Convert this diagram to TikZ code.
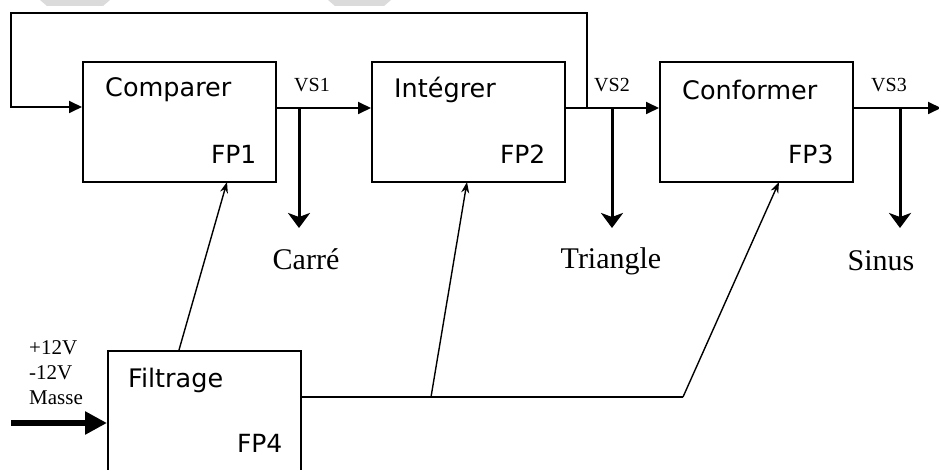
\documentclass[tikz,border=0pt]{standalone}
\usepackage{fontspec}
\setmainfont{Liberation Serif}
\newfontfamily\boxfont{DejaVu Sans}
\usetikzlibrary{arrows.meta}
\begin{document}
\begin{tikzpicture}[x=1pt,y=-1pt,
  block/.style={draw, line width=1.6pt, minimum width=193pt, minimum height=120pt,
    inner sep=0pt, anchor=north west},
  title/.style={font=\boxfont\fontsize{25.5}{25.5}\selectfont, anchor=west, inner sep=0pt},
  tag/.style={font=\boxfont\fontsize{25}{25}\selectfont, anchor=east, inner sep=0pt},
  sig/.style={line width=1.8pt, -{Triangle[length=13pt,width=12pt]}},
  tap/.style={line width=3pt, -{Stealth[length=15pt,width=22pt,inset=4pt]}},
  feed/.style={line width=1.4pt, -{Stealth[length=11pt,width=8pt]}},
  bus/.style={line width=1.6pt},
  wave/.style={font=\fontsize{30}{30}\selectfont, inner sep=0pt},
  vs/.style={font=\fontsize{20}{20}\selectfont, inner sep=0pt},
  supply/.style={font=\fontsize{21}{21}\selectfont, inner sep=0pt, anchor=west},
  shade/.style={fill=black!14, draw=none},
]
\clip (0,0) rectangle (939,470);
\fill[white] (0,0) rectangle (939,470);

% light grey tabs along the top edge
\path[shade] (40,0) -- (110,0) -- (103,6) -- (47,6) -- cycle;
\path[shade] (328,0) -- (391,0) -- (384,6) -- (335,6) -- cycle;

% function blocks
\node[block] (cmp) at (82,61) {};
\node[block] (int) at (371,61) {};
\node[block] (cnf) at (659,61) {};
\node[block, minimum height=122pt] (flt) at (107,350) {};

\node[title] (cmpT) at ([xshift=23pt,yshift=-29pt]cmp.north west) {Comparer};
\node[title] (intT) at ([xshift=23pt,yshift=-29pt]int.north west) {Intégrer};
\node[title] (cnfT) at ([xshift=23pt,yshift=-29pt]cnf.north west) {Conformer};
\node[title] (fltT) at ([xshift=21pt,yshift=-30pt]flt.north west) {Filtrage};

\node[tag] (fp1) at ([xshift=-20pt,yshift=-93pt]cmp.north east) {FP1};
\node[tag] (fp2) at ([xshift=-20pt,yshift=-93pt]int.north east) {FP2};
\node[tag] (fp3) at ([xshift=-20pt,yshift=-93pt]cnf.north east) {FP3};
\node[tag] (fp4) at ([xshift=-19pt,yshift=-93pt]flt.north east) {FP4};

% signal junctions and tap ends
\coordinate (j1) at (299,108);
\coordinate (j2) at (612,108);
\coordinate (j3) at (900,108);
\coordinate (fb) at (587,108);
\coordinate (out) at (941,108);
\coordinate (t1) at (299,228);
\coordinate (t2) at (612,228);
\coordinate (t3) at (900,228);

% main signal chain
\draw[sig] (cmp.east |- j1) -- (int.west |- j1);
\draw[sig] (int.east |- j2) -- (cnf.west |- j2);
\draw[sig] (cnf.east |- j3) -- (out);

% feedback loop back to the comparator
\coordinate (fbA) at (587,13);
\coordinate (fbB) at (11,13);
\coordinate (fbC) at (11,107);
\draw[line width=1.8pt] (fb) -- (fbA) -- (fbB) -- (fbC)
  [-{Triangle[length=13pt,width=12pt]}] -- (cmp.west |- fbC);

% waveform taps
\draw[tap] (j1) -- (t1);
\draw[tap] (j2) -- (t2);
\draw[tap] (j3) -- (t3);

\node[vs] (vs1) at (312,85) {VS1};
\node[vs] (vs2) at (612,85) {VS2};
\node[vs] (vs3) at (889,85) {VS3};

\node[wave] (carre) at (306,259) {Carré};
\node[wave] (tri) at (611,261) {Triangle};
\node[wave] (sin) at (881,261) {Sinus};

% power distribution from the filter block
\coordinate (p0) at (179,350);
\coordinate (p1) at (227,182);
\coordinate (b0) at (flt.east |- 0,397);
\coordinate (b1) at (431,397);
\coordinate (b2) at (683,397);
\coordinate (p2) at (467,182);
\coordinate (p3) at (779,182);
\draw[feed] (p0) -- (p1);
\draw[bus] (b0) -- (b2);
\draw[feed] (b1) -- (p2);
\draw[feed] (b2) -- (p3);

% supply input
\coordinate (in) at (11,423);
\draw[line width=6pt, -{Triangle[length=22pt,width=22pt]}] (in) -- (flt.west |- in);
\node[supply] (v1) at (29,348) {+12V};
\node[supply] (v2) at (29,373) {-12V};
\node[supply] (v3) at (29,398) {Masse};
\end{tikzpicture}
\end{document}
